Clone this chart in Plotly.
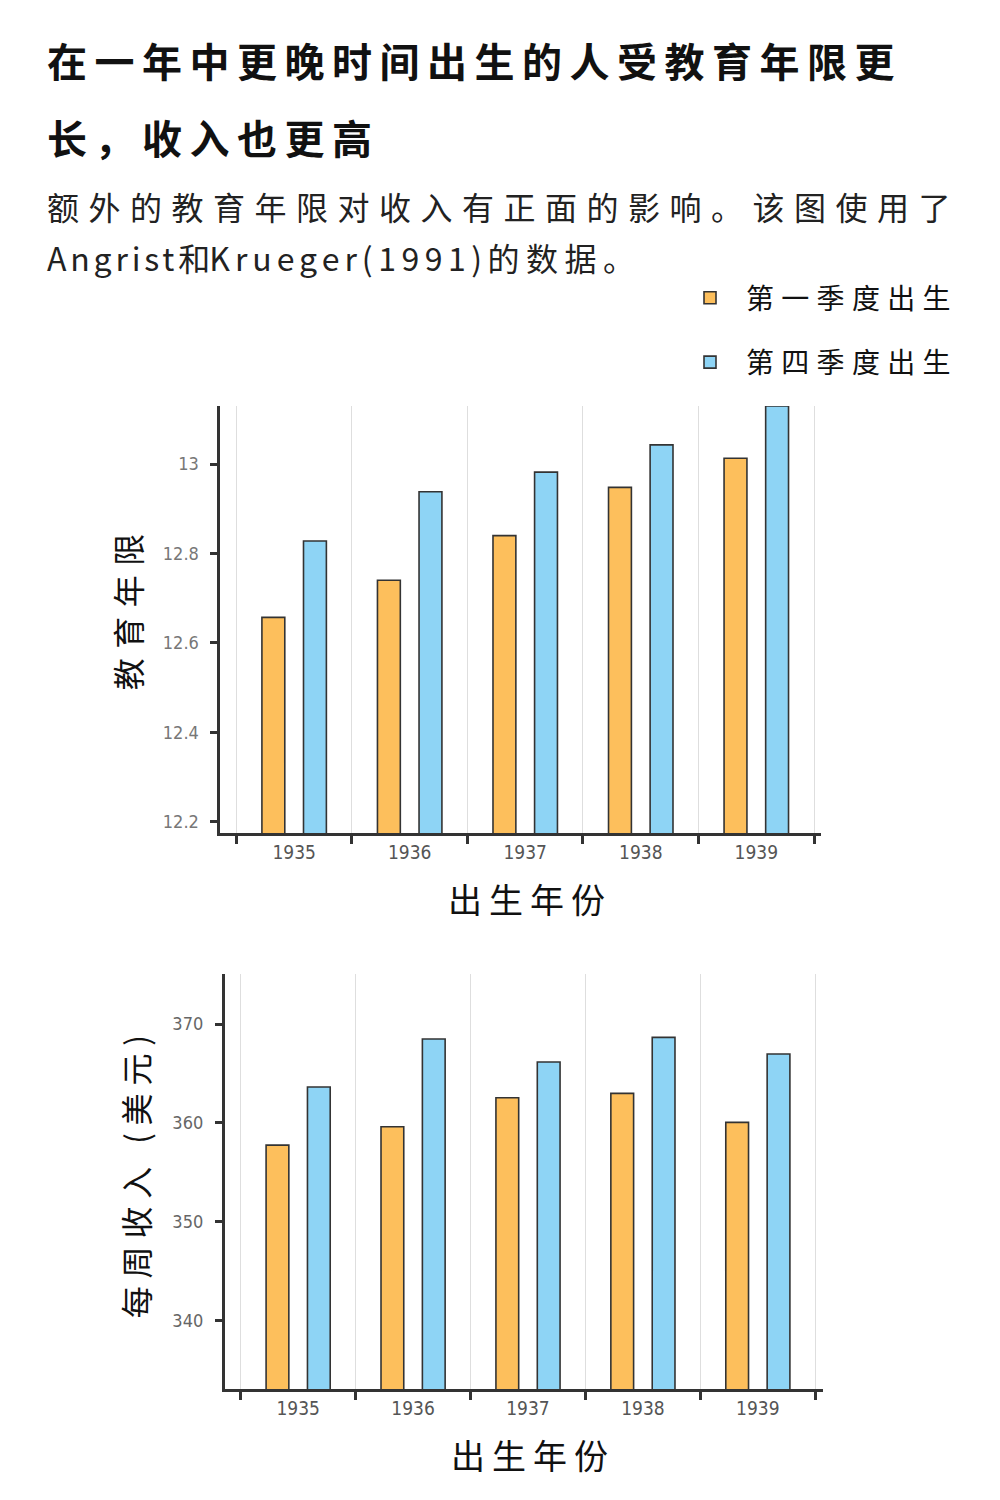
import plotly.graph_objects as go

years = ["1935", "1936", "1937", "1938", "1939"]
series_names = ["第一季度出生", "第四季度出生"]
edu_q1 = [12.657, 12.740, 12.840, 12.948, 13.013]
edu_q4 = [12.828, 12.938, 12.982, 13.043, 13.130]
earn_q1 = [357.74, 359.60, 362.53, 362.98, 360.04]
earn_q4 = [363.62, 368.48, 366.15, 368.65, 366.96]
edu_ticks = [12.2, 12.4, 12.6, 12.8, 13.0]
edu_ticktext = ["12.2", "12.4", "12.6", "12.8", "13"]
earn_ticks = [340, 350, 360, 370]
earn_ticktext = ["340", "350", "360", "370"]

title_lines = ["在一年中更晚时间出生的人受教育年限更", "长，收入也更高"]
subtitle_line1 = "额外的教育年限对收入有正面的影响。该图使用了"
subtitle_line2_parts = ["Angrist", "和", "Krueger", "(1991)", "的数据。"]
ytitle_top = "教育年限"
ytitle_bottom = "每周收入 (美元)"
xtitle = "出生年份"

ORANGE = "#FDBF5C"
BLUE = "#8ED4F5"
EDGE = "#333333"
CJK = "Noto Sans CJK SC"
NUM = "DejaVu Sans Condensed, Liberation Sans Narrow, sans-serif"

W, H = 1000, 1500
OFF = 8  # page body margin


def px_x(v):
    return (v - OFF) / W


def px_y(v):
    return 1 - (v - OFF) / H


def sp(text, ls):
    return f'<span style="letter-spacing:{ls}px">{text}</span>'


def padded(text, ls, lead):
    # letter-spaced text, no trailing gap, with a small leading pad
    return (sp("\u00a0", lead) + sp(text[:-1], ls) + text[-1])


fig = go.Figure()

for vals, name, color, ax, show in [
    (edu_q1, series_names[0], ORANGE, ("x", "y"), True),
    (edu_q4, series_names[1], BLUE, ("x", "y"), True),
    (earn_q1, series_names[0], ORANGE, ("x2", "y2"), False),
    (earn_q4, series_names[1], BLUE, ("x2", "y2"), False),
]:
    fig.add_trace(go.Bar(
        x=years, y=vals, name=sp(name, 7.3), xaxis=ax[0], yaxis=ax[1],
        marker=dict(color=color, line=dict(color=EDGE, width=1.6)),
        showlegend=show, legendgroup=name,
    ))


common_x = dict(
    type="category", tickson="boundaries", showgrid=True, gridcolor="#dedede", gridwidth=1,
    showline=True, linecolor=EDGE, linewidth=2.5, ticks="outside", ticklen=8, tickwidth=2.5,
    tickcolor=EDGE, tickfont=dict(family=NUM, size=19, color="#555555"), zeroline=False,
    title=dict(text=padded(xtitle, 7, 4), font=dict(family=CJK, size=34, color="#111111"), standoff=28),
)
common_y = dict(
    showline=True, linecolor=EDGE, linewidth=2.5, ticks="outside", ticklen=7, tickwidth=2.5,
    tickcolor=EDGE, showgrid=False, zeroline=False, ticklabelstandoff=8,
)

fig.update_layout(
    width=W, height=H, margin=dict(l=0, r=0, t=0, b=0),
    paper_bgcolor="white", plot_bgcolor="white",
    barmode="group", bargap=0.28, bargroupgap=0.45,
    font=dict(family=CJK, color="#111111"),
    xaxis=dict(domain=[px_x(220.2), px_x(821)], range=[-0.64, 4.56], anchor="y", **common_x),
    yaxis=dict(domain=[px_y(833.3), px_y(406)], range=[12.174, 13.13], anchor="x",
               tickvals=edu_ticks, ticktext=edu_ticktext,
               tickfont=dict(family=NUM, size=18, color="#777777"),
               title=dict(text=padded(ytitle_top, 9.5, 8), font=dict(family=CJK, size=32, color="#111111"), standoff=12),
               **common_y),
    xaxis2=dict(domain=[px_x(224.6), px_x(823)], range=[-0.64, 4.567], anchor="y2", **common_x),
    yaxis2=dict(domain=[px_y(1389.3), px_y(974)], range=[333.0, 375.07], anchor="x2",
                tickvals=earn_ticks, ticktext=earn_ticktext,
                tickfont=dict(family=NUM, size=18, color="#666666"),
                title=dict(text=padded(ytitle_bottom, 7.8, 3), font=dict(family=CJK, size=32, color="#111111"), standoff=14),
                **common_y),
    legend=dict(
        x=px_x(674), y=px_y(273), xanchor="left", yanchor="top",
        font=dict(family=CJK, size=28, color="#111111"),
        traceorder="grouped", tracegroupgap=25, bgcolor="rgba(0,0,0,0)",
        itemwidth=62,
    ),
)

# Title and subtitle
for i, line in enumerate(title_lines):
    fig.add_annotation(
        x=px_x(45), y=px_y([60, 137][i]), xref="paper", yref="paper", xanchor="left", yanchor="middle",
        text="<b>" + sp(line, 7.5) + "</b>", showarrow=False,
        font=dict(family=CJK, size=40, color="#111111"),
    )

fig.add_annotation(
    x=px_x(45), y=px_y(206), xref="paper", yref="paper", xanchor="left", yanchor="middle",
    text=sp(subtitle_line1, 9.5), showarrow=False,
    font=dict(family=CJK, size=32, color="#222222"),
)
line2_spacing = [3.8, -1.0, 5.0, 5.5, 6.5]
fig.add_annotation(
    x=px_x(45), y=px_y(257), xref="paper", yref="paper", xanchor="left", yanchor="middle",
    text="".join(sp(p, s) for p, s in zip(subtitle_line2_parts, line2_spacing)), showarrow=False,
    font=dict(family=CJK, size=32, color="#222222"),
)

fig.write_html("out.html")
